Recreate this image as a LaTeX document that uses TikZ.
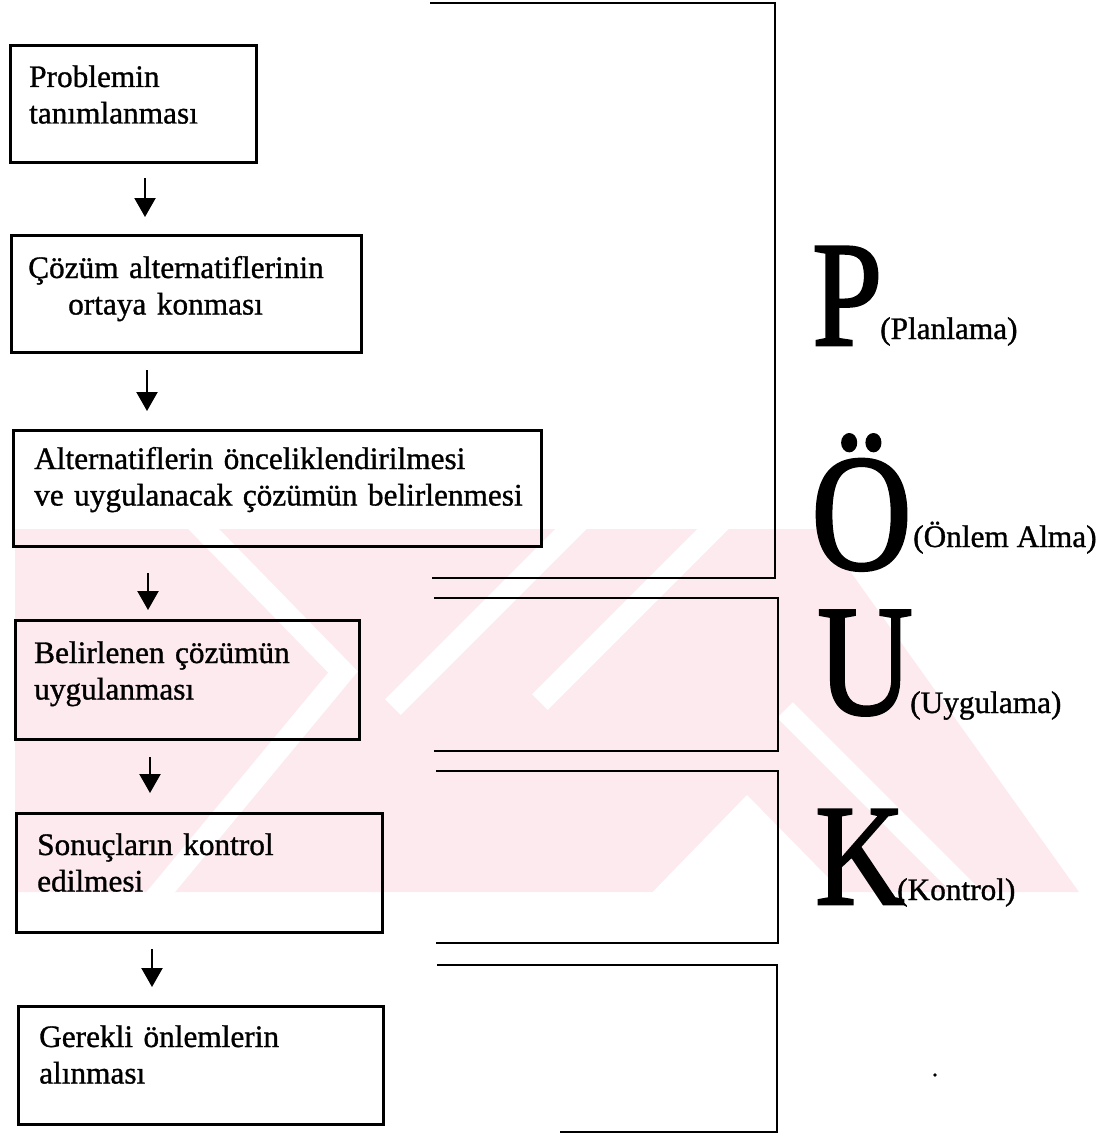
\documentclass[tikz,border=0pt]{standalone}
\usepackage{fontspec}
\setmainfont{Liberation Serif}[FakeBold=1]
\newfontfamily\heavyserif{Liberation Serif}[FakeBold=1.8]
\usetikzlibrary{arrows.meta,calc}

\definecolor{wmpink}{RGB}{253,234,239}

\tikzset{
  stepbox/.style={draw=black, line width=2.6pt, rectangle, inner sep=0pt, anchor=north west},
  steptext/.style={anchor=base west, inner sep=0pt, align=left, text width=560pt,
                   font=\fontsize{31.3}{36.5}\selectfont},
  flow/.style={line width=2.2pt, -{Triangle[length=19pt,width=21pt]}},
  bracket/.style={line width=2.6pt},
  bigletter/.style={anchor=base west, inner sep=0pt},
  phase/.style={anchor=base west, inner sep=0pt, font=\fontsize{31.3}{36}\selectfont},
  gap/.style={draw=white, line width=22pt}
}

\begin{document}
\begin{tikzpicture}[x=1pt,y=-1pt]
\useasboundingbox (0,0) rectangle (1117,1137);

% faint background logo
\begin{scope}
  \clip (15,529) rectangle (1085,892);
  \fill[wmpink] (15,529) -- (820,529) -- (1079,892) -- (15,892) -- cycle;
  \draw[gap] (190,515) -- (343,672) -- (150,905);
  \draw[gap] (585,515) -- (393,707);
  \draw[gap] (727,515) -- (540,702);
  \draw[gap] (785,710) -- (980,905);
  \fill[white] (747,795) -- (640,905) -- (855,905) -- cycle;
\end{scope}

% process boxes
\node[stepbox, minimum width=246pt, minimum height=117pt] (b1) at (9,44) {};
\node[stepbox, minimum width=350pt, minimum height=117pt] (b2) at (10,234) {};
\node[stepbox, minimum width=528pt, minimum height=116pt] (b3) at (12,429) {};
\node[stepbox, minimum width=344pt, minimum height=119pt] (b4) at (14,619) {};
\node[stepbox, minimum width=366pt, minimum height=119pt] (b5) at (15,812) {};
\node[stepbox, minimum width=365pt, minimum height=118pt] (b6) at (17,1005) {};

% box texts
\node[steptext] (t1) at (29,87) {Problemin\\tanımlanması};
\node[steptext] (t2) at (28,278) {Çözüm alternatiflerinin\\\hspace*{40pt}ortaya konması};
\node[steptext] (t3) at (34,469) {Alternatiflerin önceliklendirilmesi\\ve uygulanacak çözümün belirlenmesi};
\node[steptext] (t4) at (34,663) {Belirlenen çözümün\\uygulanması};
\node[steptext] (t5) at (37,855) {Sonuçların kontrol\\edilmesi};
\node[steptext] (t6) at (39,1047) {Gerekli önlemlerin\\alınması};

% arrows between the steps
\coordinate (s1) at (145,178); \coordinate (e1) at (145,217);
\coordinate (s2) at (147,370); \coordinate (e2) at (147,411);
\coordinate (s3) at (148,573); \coordinate (e3) at (148,610);
\coordinate (s4) at (150,757); \coordinate (e4) at (150,793);
\coordinate (s5) at (152,949); \coordinate (e5) at (152,987);
\draw[flow] (s1) -- (e1);
\draw[flow] (s2) -- (e2);
\draw[flow] (s3) -- (e3);
\draw[flow] (s4) -- (e4);
\draw[flow] (s5) -- (e5);

% phase brackets
\draw[bracket] (430,3) -- (775,3) -- (775,578) -- (432,578);
\draw[bracket] (434,598) -- (778,598) -- (778,751) -- (434,751);
\draw[bracket] (436,771) -- (778,771) -- (778,943) -- (436,943);
\draw[bracket] (437,965) -- (777,965) -- (777,1132) -- (560,1132);

% phase letters
\node[bigletter] (lp) at (812,345) {\scalebox{0.84}[1]{\heavyserif\fontsize{150}{150}\selectfont P}};
\node[phase] (np) at (880,339) {(Planlama)};
\node[bigletter] (lo) at (811,569) {\scalebox{0.84}[1]{\heavyserif\fontsize{166}{166}\selectfont Ö}};
\node[phase] (no) at (913,547) {(Önlem Alma)};
\node[bigletter] (lu) at (817,714) {\scalebox{0.84}[1]{\heavyserif\fontsize{158}{158}\selectfont U}};
\node[phase] (nu) at (910,713) {(Uygulama)};
\node[bigletter] (lk) at (815,904) {\scalebox{0.86}[1]{\heavyserif\fontsize{144}{144}\selectfont K}};
\node[phase] (nk) at (897,900) {(Kontrol)};

% stray mark
\fill (935,1075) circle (1.8pt);
\end{tikzpicture}
\end{document}
